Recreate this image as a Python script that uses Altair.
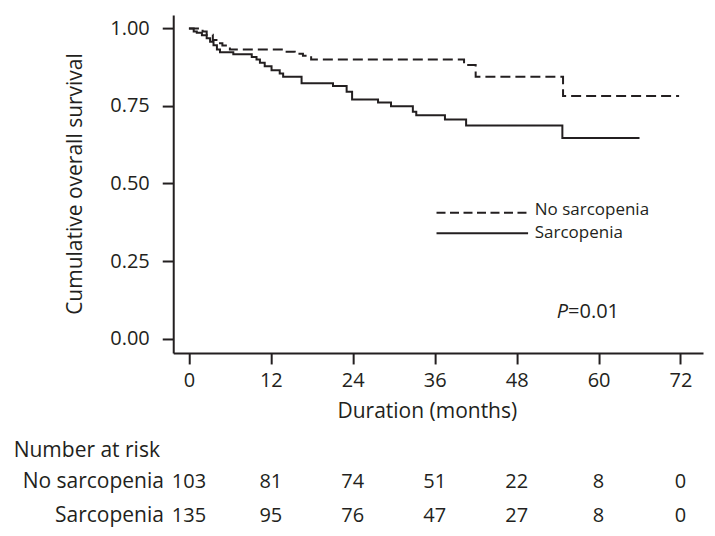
import altair as alt
import pandas as pd

# ---- data ----
groups = ["No sarcopenia", "Sarcopenia"]

ns_time = [0, 2.0, 2.6, 3.5, 4.2, 4.9, 6.0, 14.0, 15.5, 16.7, 17.9, 40.3, 42.0, 54.8, 71.8]
ns_surv = [1.0, 0.99, 0.98, 0.963, 0.952, 0.945, 0.932, 0.925, 0.918, 0.912, 0.900, 0.882, 0.844, 0.782, 0.782]

s_time = [0, 0.7, 1.15, 1.9, 2.6, 3.1, 3.6, 4.1, 4.55, 6.5, 9.2, 9.9, 10.4, 11.1, 12.1, 13.3, 13.8,
          16.5, 21.1, 23.1, 23.9, 27.7, 29.6, 32.8, 33.3, 37.5, 40.6, 54.7, 66.0]
s_surv = [1.0, 0.99, 0.986, 0.978, 0.968, 0.957, 0.946, 0.932, 0.923, 0.917, 0.908, 0.9, 0.889, 0.878,
          0.865, 0.855, 0.844, 0.823, 0.814, 0.796, 0.771, 0.761, 0.749, 0.731, 0.72, 0.706, 0.687,
          0.647, 0.647]

risk_times = [0, 12, 24, 36, 48, 60, 72]
risk_ns = [103, 81, 74, 51, 22, 8, 0]
risk_s = [135, 95, 76, 47, 27, 8, 0]

y_ticks = [0, 0.25, 0.5, 0.75, 1.0]
p_label = "=0.01"

# ---- tables ----
curve_df = pd.concat([
    pd.DataFrame({"time": ns_time, "surv": ns_surv, "group": groups[0]}),
    pd.DataFrame({"time": s_time, "surv": s_surv, "group": groups[1]}),
])
risk_df = pd.DataFrame({
    "time": risk_times * 2,
    "n": risk_ns + risk_s,
    "group": [groups[0]] * len(risk_times) + [groups[1]] * len(risk_times),
})
label_df = pd.DataFrame({"group": groups})

INK = "#231f20"
FONT = "Open Sans"

x_scale = alt.Scale(domain=[-2.3, 75.3], nice=False, zero=False)
y_scale = alt.Scale(domain=[-0.0465, 1.043], nice=False, zero=False)

x_enc = alt.X("time:Q", scale=x_scale, axis=alt.Axis(
    values=risk_times, title="Duration (months)", grid=False,
    domainColor=INK, domainWidth=2, tickColor=INK, tickWidth=2, tickSize=11,
    labelFont=FONT, labelFontSize=20, labelColor=INK, labelPadding=7,
    titleFont=FONT, titleFontSize=21, titleFontWeight="normal", titleColor=INK,
    titleX=253.7, titleY=59, titleAlign="center", titleBaseline="middle"))
y_enc = alt.Y("surv:Q", scale=y_scale, axis=alt.Axis(
    values=y_ticks, format=".2f", title="Cumulative overall survival", grid=False,
    domainColor=INK, domainWidth=2, tickColor=INK, tickWidth=2, tickSize=11,
    labelFont=FONT, labelFontSize=20, labelColor=INK, labelPadding=13,
    titleFont=FONT, titleFontSize=21, titleFontWeight="normal", titleColor=INK,
    titleX=-98, titleY=168.5, titleAngle=270, titleAlign="center", titleBaseline="middle"))

curves = alt.Chart(curve_df).mark_line(interpolate="step-after", strokeWidth=2, color=INK).encode(
    x=x_enc,
    y=y_enc,
    strokeDash=alt.StrokeDash("group:N", scale=alt.Scale(domain=groups, range=[[10, 5], [1, 0]]), legend=None),
    detail="group:N",
)

# ---- legend (drawn manually) ----
leg_dash = alt.Chart(label_df).transform_filter(alt.datum.group == groups[0]).mark_rule(
    color=INK, strokeWidth=2, strokeDash=[9, 4.5]).encode(
    x=alt.value(263.4), x2=alt.value(355), y=alt.value(197.7))
leg_solid = alt.Chart(label_df).transform_filter(alt.datum.group == groups[1]).mark_rule(
    color=INK, strokeWidth=2).encode(
    x=alt.value(263.4), x2=alt.value(355), y=alt.value(218.3))
leg_text1 = alt.Chart(label_df).transform_filter(alt.datum.group == groups[0]).mark_text(
    font=FONT, fontSize=17, color=INK, align="left", baseline="middle").encode(
    x=alt.value(361.7), y=alt.value(195), text="group:N")
leg_text2 = alt.Chart(label_df).transform_filter(alt.datum.group == groups[1]).mark_text(
    font=FONT, fontSize=17, color=INK, align="left", baseline="middle").encode(
    x=alt.value(361.7), y=alt.value(217.7), text="group:N")

# ---- P value ----
p_df = pd.DataFrame({"p": ["P"], "rest": [p_label]})
p_italic = alt.Chart(p_df).mark_text(font=FONT, fontSize=20, fontStyle="italic", color=INK,
                                     align="right", baseline="middle").encode(
    x=alt.value(395), y=alt.value(297), text="p:N")
p_rest = alt.Chart(p_df).mark_text(font=FONT, fontSize=20, color=INK,
                                   align="left", baseline="middle").encode(
    x=alt.value(395), y=alt.value(297), text="rest:N")

# ---- number at risk table ----
risk_title = alt.Chart(pd.DataFrame({"t": ["Number at risk"]})).mark_text(
    font=FONT, fontSize=21, color=INK, align="left", baseline="middle").encode(
    x=alt.value(-159.6), y=alt.value(436), text="t:N")
row_label1 = alt.Chart(label_df).transform_filter(alt.datum.group == groups[0]).mark_text(
    font=FONT, fontSize=21, color=INK, align="right", baseline="middle").encode(
    x=alt.value(-9.3), y=alt.value(467), text="group:N")
row_label2 = alt.Chart(label_df).transform_filter(alt.datum.group == groups[1]).mark_text(
    font=FONT, fontSize=21, color=INK, align="right", baseline="middle").encode(
    x=alt.value(-9.3), y=alt.value(501), text="group:N")
risk_row1 = alt.Chart(risk_df).transform_filter(alt.datum.group == groups[0]).mark_text(
    font=FONT, fontSize=20, color=INK, align="center", baseline="middle").encode(
    x=x_enc, y=alt.value(467), text="n:Q")
risk_row2 = alt.Chart(risk_df).transform_filter(alt.datum.group == groups[1]).mark_text(
    font=FONT, fontSize=20, color=INK, align="center", baseline="middle").encode(
    x=x_enc, y=alt.value(501), text="n:Q")

chart = alt.layer(
    curves, leg_dash, leg_solid, leg_text1, leg_text2, p_italic, p_rest,
    risk_title, row_label1, row_label2, risk_row1, risk_row2,
).properties(
    width=530, height=338,
    autosize=alt.AutoSizeParams(type="none"),
    padding={"left": 165.3, "top": 7, "right": 4, "bottom": 182},
    background="white",
).configure_view(stroke=None)

chart.save("out.html", embed_options={"renderer": "svg", "actions": False})
